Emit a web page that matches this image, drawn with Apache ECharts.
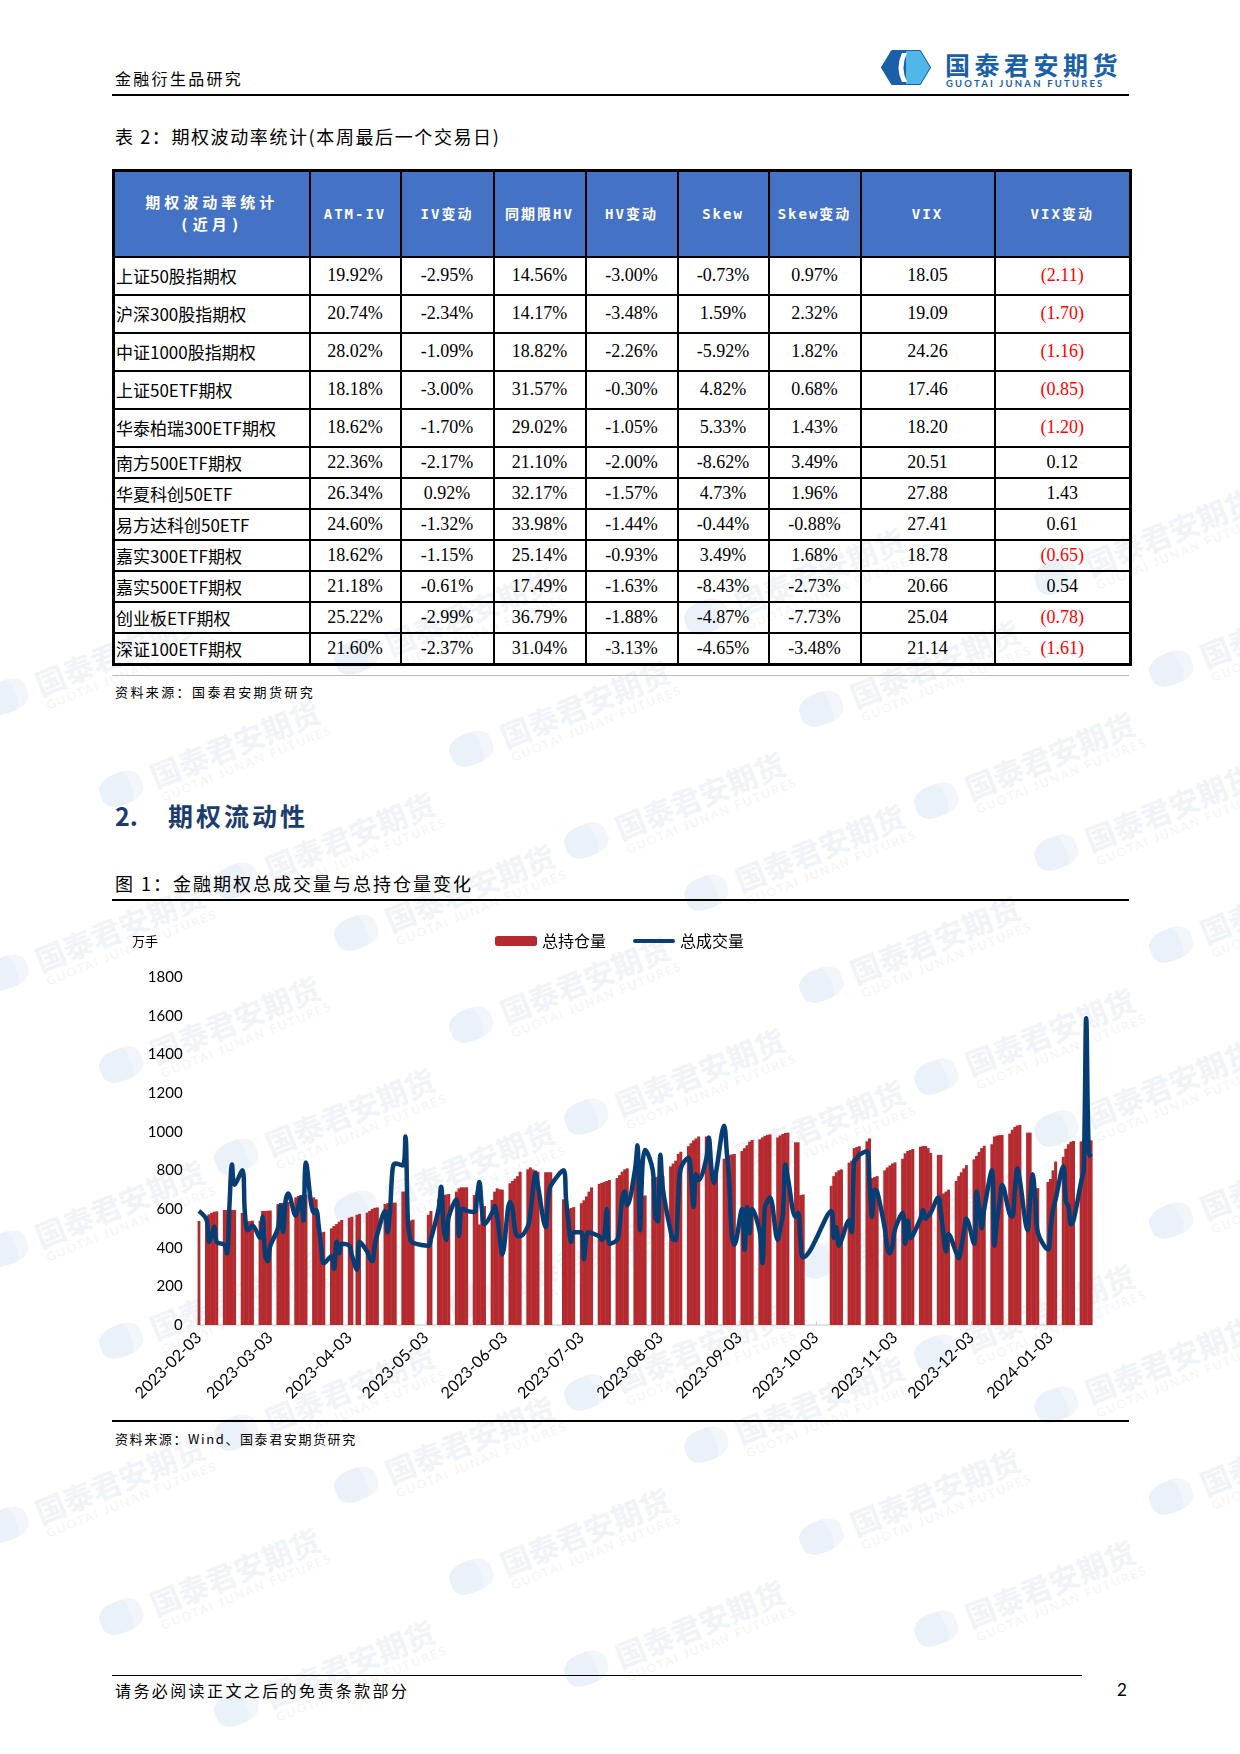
<!DOCTYPE html>
<html>
<head>
<meta charset="utf-8">
<title>金融衍生品研究</title>
<script src="https://cdn.jsdelivr.net/npm/echarts@6/dist/echarts.min.js"></script>
<style>
  body { margin: 0; background: #fff; }
  .page { position: relative; width: 1240px; height: 1754px; overflow: hidden;
          font-family: "Noto Sans CJK SC", sans-serif; color: #000; }
  .abs { position: absolute; white-space: nowrap; }
  .rule { position: absolute; background: #000; }
  .brand { color: #1b5fa9; font-weight: bold; }
  .wm { position: absolute; transform: rotate(-22deg); transform-origin: 0 0; white-space: nowrap; }
  .wm .logo { display: inline-block; width: 44px; height: 32px; border-radius: 40%; background: #ebf1f8; vertical-align: middle;
              border-right: 12px solid #f2f6fa; box-sizing: border-box; }
  .wm .t1 { display: inline-block; vertical-align: middle; margin-left: 10px; color: #f0f3f7; font-size: 30px; font-weight: bold; line-height: 32px; }
  .wm .t2 { display: block; margin-left: 56px; color: #f2f4f8; font-family: Lato, sans-serif; font-size: 12px; letter-spacing: 2px; }
  table.vol { position: absolute; left: 112px; top: 169px; width: 1017px;
              border-collapse: collapse; table-layout: fixed; border: 3px solid #000; }
  table.vol td, table.vol th { border: 2px solid #000; padding: 0; text-align: center;
              font-family: "Liberation Serif", "Noto Sans CJK SC", serif; font-size: 18px; font-weight: normal; }
  table.vol th { background: #4472c4; color: #fff; font-family: "DejaVu Sans Mono", "Noto Sans CJK SC", sans-serif;
              font-weight: bold; font-size: 14px; letter-spacing: 2px; line-height: 22px; }
  table.vol th.first { letter-spacing: 4px; font-size: 15px; }
  table.vol td.name { text-align: left; padding-left: 1px; font-family: "Noto Sans CJK SC", serif; font-size: 17px; }
  table.vol tr.tall td { height: 36px; }
  table.vol tr.short td { height: 29px; }
  .neg { color: #ff0000; }
  #chart { position: absolute; left: 112px; top: 905px; width: 1017px; height: 515px; }
</style>
</head>
<body>
<div class="page">
  <div id="wmLayer"></div>

  <div class="abs" style="left:115px;top:69px;font-size:16px;line-height:18px;letter-spacing:2.3px;">金融衍生品研究</div>

  <svg class="abs" style="left:880px;top:50px;" width="52" height="35" viewBox="0 0 52 35">
    <polygon points="2,17.5 12,1 40,1 50,17.5 40,34 12,34" fill="#1b5fa9" stroke="#1b5fa9" stroke-width="2" stroke-linejoin="round"/>
    <polygon points="26,1 40,1 50,17.5 40,34 26,34" fill="#4fb8e8"/>
    <path d="M22,3 Q15,17.5 22,32 L27,32 Q20,17.5 27,3 Z" fill="#fff"/>
  </svg>
  <div class="abs brand" style="left:945px;top:52px;font-size:25px;line-height:25px;letter-spacing:4.5px;">国泰君安期货</div>
  <div class="abs brand" style="left:946px;top:79px;font-family:Lato,sans-serif;font-size:9.5px;line-height:10px;letter-spacing:2.2px;">GUOTAI JUNAN FUTURES</div>

  <div class="rule" style="left:112px;top:94px;width:1017px;height:1.5px;"></div>

  <div class="abs" style="left:115px;top:126px;font-size:18px;line-height:20px;letter-spacing:1.6px;">表 2：期权波动率统计(本周最后一个交易日)</div>

  <table class="vol">
    <colgroup>
      <col style="width:196px"><col style="width:91px"><col style="width:93px"><col style="width:92px">
      <col style="width:92px"><col style="width:91px"><col style="width:92px"><col style="width:134px"><col style="width:136px">
    </colgroup>
    <tr style="height:86px">
      <th class="first">期权波动率统计<br>(近月)</th><th>ATM-IV</th><th>IV变动</th><th>同期限HV</th><th>HV变动</th>
      <th>Skew</th><th>Skew变动</th><th>VIX</th><th>VIX变动</th>
    </tr>
    <tr class="tall"><td class="name">上证50股指期权</td><td>19.92%</td><td>-2.95%</td><td>14.56%</td><td>-3.00%</td><td>-0.73%</td><td>0.97%</td><td>18.05</td><td class="neg">(2.11)</td></tr>
    <tr class="tall"><td class="name">沪深300股指期权</td><td>20.74%</td><td>-2.34%</td><td>14.17%</td><td>-3.48%</td><td>1.59%</td><td>2.32%</td><td>19.09</td><td class="neg">(1.70)</td></tr>
    <tr class="tall"><td class="name">中证1000股指期权</td><td>28.02%</td><td>-1.09%</td><td>18.82%</td><td>-2.26%</td><td>-5.92%</td><td>1.82%</td><td>24.26</td><td class="neg">(1.16)</td></tr>
    <tr class="tall"><td class="name">上证50ETF期权</td><td>18.18%</td><td>-3.00%</td><td>31.57%</td><td>-0.30%</td><td>4.82%</td><td>0.68%</td><td>17.46</td><td class="neg">(0.85)</td></tr>
    <tr class="tall"><td class="name">华泰柏瑞300ETF期权</td><td>18.62%</td><td>-1.70%</td><td>29.02%</td><td>-1.05%</td><td>5.33%</td><td>1.43%</td><td>18.20</td><td class="neg">(1.20)</td></tr>
    <tr class="short"><td class="name">南方500ETF期权</td><td>22.36%</td><td>-2.17%</td><td>21.10%</td><td>-2.00%</td><td>-8.62%</td><td>3.49%</td><td>20.51</td><td>0.12</td></tr>
    <tr class="short"><td class="name">华夏科创50ETF</td><td>26.34%</td><td>0.92%</td><td>32.17%</td><td>-1.57%</td><td>4.73%</td><td>1.96%</td><td>27.88</td><td>1.43</td></tr>
    <tr class="short"><td class="name">易方达科创50ETF</td><td>24.60%</td><td>-1.32%</td><td>33.98%</td><td>-1.44%</td><td>-0.44%</td><td>-0.88%</td><td>27.41</td><td>0.61</td></tr>
    <tr class="short"><td class="name">嘉实300ETF期权</td><td>18.62%</td><td>-1.15%</td><td>25.14%</td><td>-0.93%</td><td>3.49%</td><td>1.68%</td><td>18.78</td><td class="neg">(0.65)</td></tr>
    <tr class="short"><td class="name">嘉实500ETF期权</td><td>21.18%</td><td>-0.61%</td><td>17.49%</td><td>-1.63%</td><td>-8.43%</td><td>-2.73%</td><td>20.66</td><td>0.54</td></tr>
    <tr class="short"><td class="name">创业板ETF期权</td><td>25.22%</td><td>-2.99%</td><td>36.79%</td><td>-1.88%</td><td>-4.87%</td><td>-7.73%</td><td>25.04</td><td class="neg">(0.78)</td></tr>
    <tr class="short"><td class="name">深证100ETF期权</td><td>21.60%</td><td>-2.37%</td><td>31.04%</td><td>-3.13%</td><td>-4.65%</td><td>-3.48%</td><td>21.14</td><td class="neg">(1.61)</td></tr>
  </table>

  <div class="rule" style="left:112px;top:675px;width:1017px;height:1px;background:#bbb;"></div>
  <div class="abs" style="left:115px;top:684px;font-size:13px;line-height:15px;letter-spacing:2.4px;">资料来源：国泰君安期货研究</div>

  <div class="abs" style="left:115px;top:802px;font-size:25px;line-height:27px;font-weight:bold;color:#1b3d6e;">2.<span style="display:inline-block;width:30px"></span><span style="letter-spacing:3px">期权流动性</span></div>

  <div class="abs" style="left:115px;top:873px;font-size:18px;line-height:20px;letter-spacing:2px;">图 1：金融期权总成交量与总持仓量变化</div>
  <div class="rule" style="left:112px;top:899px;width:1017px;height:1.5px;"></div>

  <div id="chart"></div>

  <div class="rule" style="left:112px;top:1420px;width:1017px;height:1.5px;"></div>
  <div class="abs" style="left:115px;top:1431px;font-size:13px;line-height:15px;letter-spacing:1.6px;">资料来源：Wind、国泰君安期货研究</div>

  <div class="rule" style="left:112px;top:1675px;width:970px;height:1px;"></div>
  <div class="abs" style="left:115px;top:1681px;font-size:16px;line-height:18px;letter-spacing:2.4px;">请务必阅读正文之后的免责条款部分</div>
  <div class="abs" style="left:1117px;top:1680px;font-family:Lato,sans-serif;font-size:17px;line-height:19px;">2</div>
</div>

<script>
// 日期范围与非周末休市日
var startDay = '2023-02-03';
var endDay = '2024-01-19';
var holidays = ['2023-04-05', '2023-05-01', '2023-05-02', '2023-05-03', '2023-06-22', '2023-06-23',
  '2023-09-29', '2023-10-02', '2023-10-03', '2023-10-04', '2023-10-05', '2023-10-06', '2024-01-01'];
var yTicks = [0, 1800, 200];

// 总持仓量（万手），按交易日
var oi = [
  538,
  565, 572, 580, 586, 588,
  595, 595, 595, 595, 595,
  580, 580, 535, 538, 540,
  540, 590, 590, 591, 592,
  625, 630, 632, 635, 636,
  660, 668, 672, 675, 675,
  660, 650, 475, 478, 482,
  500, 512, 522, 534, 543,
  555, 560, 570, 575,
  581, 590, 600, 606, 608,
  626, 630, 632, 632, 633,
  690, 690, 540, 540, 545,
  570, 590,
  650, 665, 672, 675, 678,
  690, 707, 712, 712, 712,
  672, 690, 520, 612, 615,
  647, 690, 707, 702, 700,
  733, 745, 757, 770, 793,
  805, 815, 805, 800, 793,
  790, 790, 790,
  650, 650, 600, 605, 610,
  630, 645, 665, 690, 712,
  730, 735, 740, 745, 750,
  760, 775, 793, 805, 810,
  800, 790, 665, 665, 670,
  760, 765, 767, 768, 770,
  820, 835, 850, 885, 896,
  925, 940, 955, 965, 975,
  975, 975, 795, 795, 800,
  860, 870, 878, 882, 885,
  900, 915, 930, 948, 957,
  960, 970, 978, 983, 986,
  970, 980, 988, 993, 995,
  945, 945, 672, 675,
  720, 770, 790, 800, 805,
  840, 850, 915, 920, 925,
  950, 965, 760, 765, 770,
  800, 815, 825, 835, 841,
  860, 888, 900, 905, 910,
  922, 926, 926, 915, 890,
  880, 880, 680, 690, 700,
  745, 770, 790, 810, 827,
  857, 875, 895, 915, 927,
  935, 975, 980, 982, 983,
  990, 1010, 1025, 1032, 1035,
  995, 995, 700, 705, 708,
  740, 755, 800, 845,
  870, 912, 935, 948, 952,
  950, 952, 952, 955, 955
];

// 总成交量（万手），按交易日
var vol = [
  590,
  545, 430, 460, 510, 430,
  415, 370, 620, 830, 725,
  800, 590, 490, 500, 515,
  450, 560, 360, 330, 410,
  500, 620, 480, 640, 680,
  565, 610, 660, 540, 840,
  580, 595, 510, 400, 320,
  355, 290, 430, 370, 420,
  410, 360, 285, 430,
  380, 345, 330, 415, 470,
  590, 480, 600, 810, 835,
  825, 975, 530, 440, 425,
  410, 445,
  600, 715, 500, 440, 560,
  650, 460, 600, 600, 590,
  585, 650, 740, 600, 520,
  580, 615, 560, 450, 365,
  638, 603, 491, 460, 460,
  510, 580, 700, 785, 720,
  505, 650, 720,
  800, 650, 520, 430, 480,
  480, 340, 460, 480, 475,
  460, 440, 460, 600, 420,
  440, 510, 650, 690, 620,
  800, 930, 490, 830, 905,
  800, 560, 535, 880, 700,
  486, 443, 440, 650, 810,
  865, 776, 610, 780, 750,
  860, 970, 810, 735, 805,
  1030, 900, 740, 470, 415,
  600, 390, 610, 475, 600,
  480, 320, 610, 640, 660,
  440, 500, 570, 830, 760,
  560, 580, 430, 350,
  590, 450, 505, 410, 440,
  540, 480, 850, 860, 880,
  900, 740, 560, 700, 690,
  500, 400, 370, 410, 495,
  580, 420, 540, 450, 465,
  550, 595, 550, 565, 580,
  660, 580, 470, 380, 470,
  375, 345, 400, 480, 550,
  420, 690, 610, 500, 600,
  800, 410, 540, 630, 724,
  572, 560, 700, 810, 745,
  490, 650, 780, 650, 480,
  390, 500, 600, 650,
  820, 640, 615, 520, 540,
  740, 800, 1586, 890, 870
];

// 背景水印
(function () {
  var layer = document.getElementById('wmLayer');
  var html = '';
  for (var r = 0; r < 12; r++) {
    for (var c = 0; c < 4; c++) {
      var x = 100 + c * 350 + (r % 3) * 115 - 120;
      var y = 690 + r * 92 + c * -40;
      html += '<div class="wm" style="left:' + x + 'px;top:' + y + 'px"><span class="logo"></span><span class="t1">国泰君安期货</span><span class="t2">GUOTAI JUNAN FUTURES</span></div>';
    }
  }
  layer.innerHTML = html;
})();

// 日历日类目：周末和休市日留空
function fmt(t) {
  var d = new Date(t);
  var m = d.getUTCMonth() + 1, day = d.getUTCDate();
  return d.getUTCFullYear() + '-' + (m < 10 ? '0' : '') + m + '-' + (day < 10 ? '0' : '') + day;
}
var days = [], oiData = [], volData = [];
var k = 0;
var t0 = Date.parse(startDay + 'T00:00:00Z'), t1 = Date.parse(endDay + 'T00:00:00Z');
for (var t = t0; t <= t1; t += 86400000) {
  var s = fmt(t), wd = new Date(t).getUTCDay();
  days.push(s);
  if (wd !== 0 && wd !== 6 && holidays.indexOf(s) < 0) {
    oiData.push(oi[k]);
    volData.push(vol[k]);
    k++;
  } else {
    oiData.push('-');
    volData.push('-');
  }
}
if (k !== oi.length || k !== vol.length) console.error('交易日数量不一致', k, oi.length, vol.length);

function isThird(index, value) { return value.slice(8) === '03'; }

var myChart = echarts.init(document.getElementById('chart'), null, { renderer: 'canvas' });
var legendText = { fontFamily: 'Noto Sans CJK SC', fontSize: 16, color: '#000' };
var option = {
  animation: false,
  grid: { left: 85.6, right: 36.4, top: 72, bottom: 95 },
  legend: [
    { left: 383, top: 28, padding: 0, itemWidth: 42, itemHeight: 10, textStyle: legendText,
      data: ['总持仓量'] },
    { left: 521, top: 28, padding: 0, itemWidth: 42, itemHeight: 10, textStyle: legendText,
      icon: 'path://M2,3 L40,3 A2,2 0 0 1 40,7 L2,7 A2,2 0 0 1 2,3 Z',
      data: ['总成交量'] }
  ],
  graphic: [{
    type: 'text', left: 20, top: 30,
    style: { text: '万手', fontFamily: 'Noto Sans CJK SC', fontSize: 13, fill: '#000' }
  }],
  xAxis: {
    type: 'category',
    data: days,
    boundaryGap: true,
    axisLine: { lineStyle: { color: '#d9d9d9', width: 1.5 } },
    axisTick: { show: true, inside: true, length: 4, interval: isThird, alignWithLabel: true,
                lineStyle: { color: '#d0d0d0' } },
    axisLabel: { interval: isThird, rotate: 45, margin: 10, fontFamily: 'Lato', fontSize: 16, color: '#000' }
  },
  yAxis: {
    type: 'value',
    min: yTicks[0], max: yTicks[1], interval: yTicks[2],
    axisLine: { show: false }, axisTick: { show: false }, splitLine: { show: false },
    axisLabel: { margin: 15, fontFamily: 'Lato', fontSize: 15, color: '#000',
                 formatter: function (v) { return String(v); } }
  },
  series: [
    {
      name: '总持仓量', type: 'bar', data: oiData,
      barWidth: 3,
      itemStyle: { color: '#b52a2f' }
    },
    {
      name: '总成交量', type: 'line', data: volData,
      connectNulls: true, smooth: 0.35, symbol: 'none', showSymbol: false, z: 3,
      lineStyle: { color: '#063d73', width: 4.5 },
      itemStyle: { color: '#063d73' }
    }
  ]
};
myChart.setOption(option);
</script>
</body>
</html>
